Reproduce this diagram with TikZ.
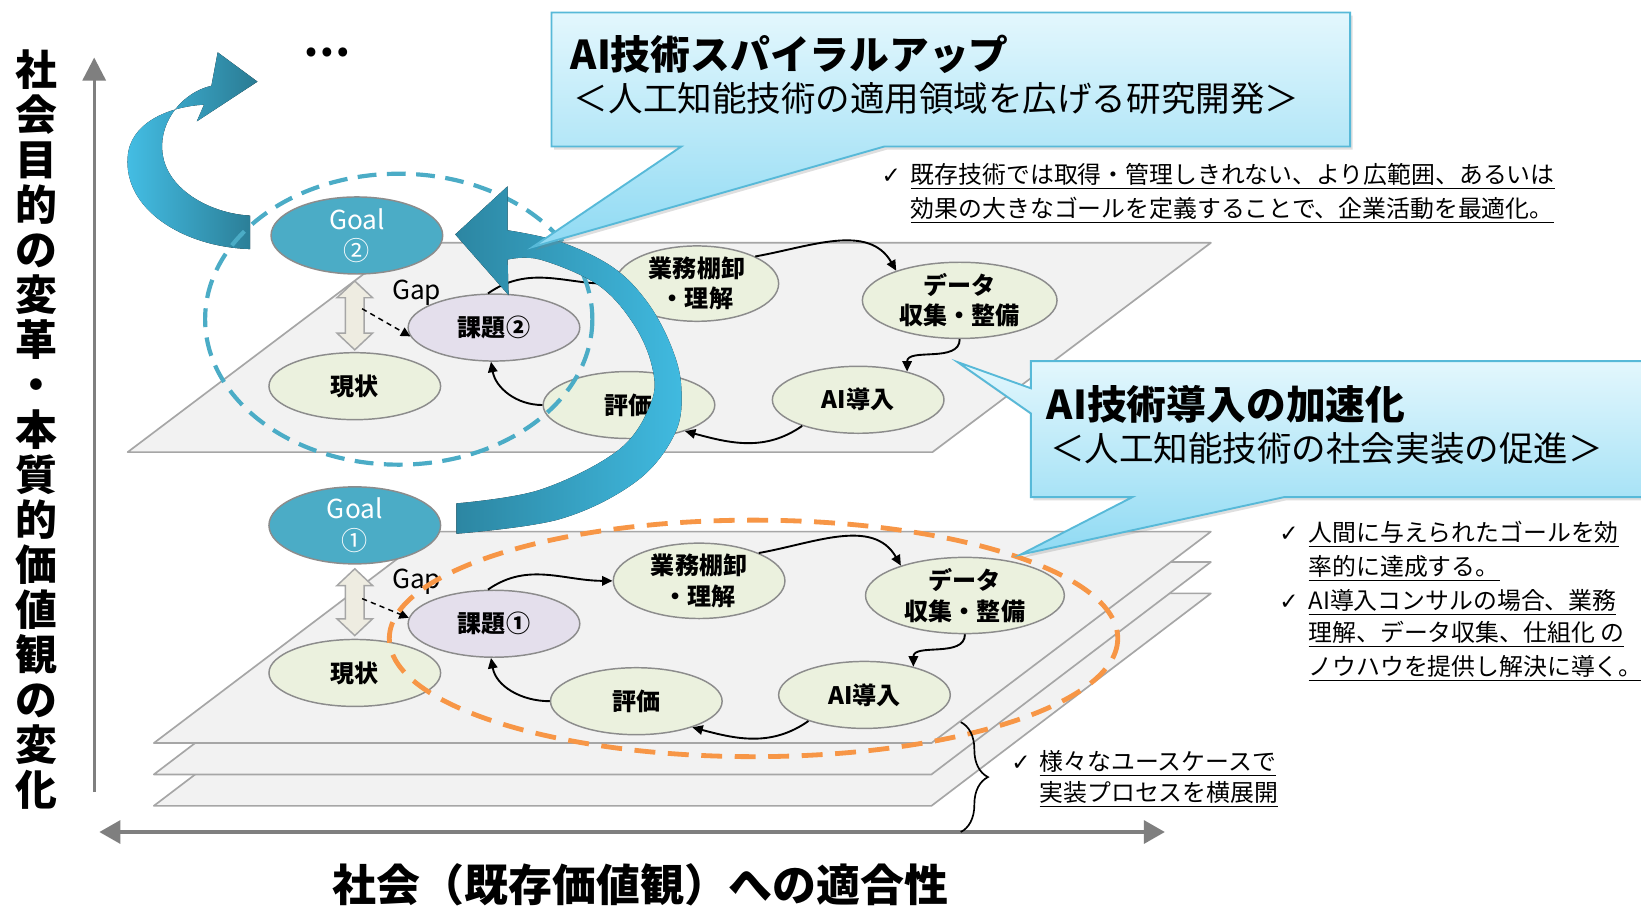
\documentclass[tikz,border=0pt]{standalone}
\usepackage{fontspec}
\setmainfont{Noto Sans CJK JP}
\newfontfamily\dejavu{DejaVu Sans}
\usetikzlibrary{shapes.geometric,arrows.meta,calc,decorations.pathreplacing,shadows}
\definecolor{planeF}{HTML}{F2F2F2}
\definecolor{planeD}{HTML}{A6A6A6}
\definecolor{nodeG}{HTML}{EBF1DE}
\definecolor{nodeP}{HTML}{E4DFEC}
\definecolor{nodeB}{HTML}{4BACC6}
\definecolor{nodeD}{HTML}{8C8C8C}
\definecolor{axisC}{HTML}{7F7F7F}
\definecolor{orangeC}{HTML}{F79646}
\definecolor{blueC}{HTML}{4BACC6}
\definecolor{fatF}{HTML}{EEECE1}
\definecolor{calB}{HTML}{57B9D8}
\definecolor{calT}{HTML}{E3F7FD}
\definecolor{calBot}{HTML}{8FDAF3}
\definecolor{tlL}{HTML}{44BFE6}
\definecolor{tlR}{HTML}{2A7B93}
\definecolor{mL}{HTML}{2C86A2}
\definecolor{mR}{HTML}{40BAE0}
\begin{document}
\begin{tikzpicture}[x=0.5pt,y=-0.5pt,
 plane/.style={fill=planeF, draw=planeD, line width=0.8pt, line join=round},
 ell/.style={ellipse, draw=nodeD, line width=0.7pt, inner sep=0pt, minimum width=82pt, minimum height=32pt, align=center, font=\bfseries\fontsize{11.5}{14.5}\selectfont},
 gnode/.style={ell, fill=nodeG},
 pnode/.style={ell, fill=nodeP},
 goalnode/.style={ell, fill=nodeB, text=white, font=\fontsize{12.5}{15}\selectfont},
 conn/.style={line width=0.9pt, -{Triangle[length=5pt,width=4.5pt]}},
 gaparrow/.style={line width=0.7pt, dash pattern=on 2.5pt off 2pt, -{Triangle[length=4.5pt,width=4.5pt]}},
 fatarrow/.style={fill=fatF, draw=planeD, line width=0.7pt, line join=miter},
 axisline/.style={draw=axisC, line width=1.5pt},
 callout/.style={draw=calB, line width=0.9pt, line join=miter, top color=calT, bottom color=calBot, drop shadow={shadow xshift=1.2pt, shadow yshift=-1.5pt, opacity=0.25}},
 chk/.style={anchor=base west, inner sep=0pt, font=\fontsize{11}{13}\dejavu},
 txt/.style={anchor=base west, inner sep=0pt, font=\fontsize{11.4}{13}\selectfont},
 gaplabel/.style={font=\fontsize{12.5}{12.5}\selectfont, inner sep=0pt},
]
\useasboundingbox (0,0) rectangle (1568,866);
\clip (0,0) rectangle (1568,866);
\fill[white] (0,0) rectangle (1568,866);

% axes
\coordinate (vA) at (90,757);
\coordinate (vB) at (90,55);
\coordinate (hA) at (95,795);
\coordinate (hB) at (1113,795);
\draw[axisline, -{Triangle[length=11pt,width=11pt]}] (vA) -- (vB);
\draw[axisline, {Triangle[length=10pt,width=11pt]}-{Triangle[length=10pt,width=11pt]}] (hA) -- (hB);

% planes
\draw[plane] (147,770) -- (890,770) -- (1157,567) -- (414,567) -- cycle;
\draw[plane] (147,740) -- (890,740) -- (1157,537) -- (414,537) -- cycle;
\draw[plane] (147,710) -- (890,710) -- (1157,508) -- (414,508) -- cycle;
\draw[plane] (122,432) -- (891,432) -- (1157,232) -- (387,232) -- cycle;

% upper level nodes
\node[goalnode] (g2) at (341,225) {Goal\\②};
\node[gnode] (gen2) at (339,369) {現状};
\node[pnode] (kad2) at (472,313) {課題②};
\node[gnode, minimum width=78pt] (gyo2) at (666,271) {業務棚卸\\・理解};
\node[gnode, minimum width=93pt, minimum height=33pt] (dat2) at (917,287) {データ\\収集・整備};
\node[gnode] (ai2) at (820,382) {AI導入};
\node[gnode] (hyo2) at (601,387) {評価};

% lower level nodes
\node[goalnode] (g1) at (339,502) {Goal\\①};
\node[gnode] (gen1) at (339,643) {現状};
\node[pnode] (kad1) at (472,596) {課題①};
\node[gnode] (gyo1) at (668,555) {業務棚卸\\・理解};
\node[gnode, minimum width=95pt, minimum height=33pt] (dat1) at (922,569) {データ\\収集・整備};
\node[gnode] (ai1) at (826,664) {AI導入};
\node[gnode] (hyo1) at (608,670) {評価};

% cycle connectors upper
\draw[conn] (kad2.100) to[out=35,in=180] (gyo2.west);
\draw[conn] (gyo2.25) to[out=10,in=120] (dat2.155);
\draw[conn] (dat2.south) to[out=-90,in=90] (ai2.30);
\draw[conn] (ai2.205) to[out=215,in=-15] (hyo2.-25);
\draw[conn] (hyo2.west) to[out=180,in=-80] (kad2.265);
% cycle connectors lower
\draw[conn] (kad1.100) to[out=35,in=180] (gyo1.west);
\draw[conn] (gyo1.25) to[out=10,in=120] (dat1.155);
\draw[conn] (dat1.south) to[out=-90,in=90] (ai1.30);
\draw[conn] (ai1.205) to[out=215,in=-15] (hyo1.-25);
\draw[conn] (hyo1.west) to[out=180,in=-80] (kad1.265);

% gap double arrows
\draw[fatarrow] let \p1=($(g2.south)+(0,6)$), \p2=($(gen2.north)+(0,-2)$) in
 (\x2,\y1) -- (\x2+8.5pt,\y1-8pt) -- (\x2+4.5pt,\y1-8pt) -- (\x2+4.5pt,\y2+8pt) -- (\x2+8.5pt,\y2+8pt) -- (\x2,\y2) -- (\x2-8.5pt,\y2+8pt) -- (\x2-4.5pt,\y2+8pt) -- (\x2-4.5pt,\y1-8pt) -- (\x2-8.5pt,\y1-8pt) -- cycle;
\draw[fatarrow] let \p1=($(g1.south)+(0,4)$), \p2=($(gen1.north)+(0,-3)$) in
 (\x2,\y1) -- (\x2+8.5pt,\y1-8pt) -- (\x2+4.5pt,\y1-8pt) -- (\x2+4.5pt,\y2+8pt) -- (\x2+8.5pt,\y2+8pt) -- (\x2,\y2) -- (\x2-8.5pt,\y2+8pt) -- (\x2-4.5pt,\y2+8pt) -- (\x2-4.5pt,\y1-8pt) -- (\x2-8.5pt,\y1-8pt) -- cycle;

% gap labels and dashed arrows
\node[gaplabel] (gap2) at (398,280) {Gap};
\node[gaplabel] (gap1) at (398,556) {Gap};
\coordinate (gs2) at (346,295);
\coordinate (gs1) at (346,572);
\draw[gaparrow] (gs2) -- (kad2.186);
\draw[gaparrow] (gs1) -- (kad1.176);

% orange dashed ellipse
\draw[orangeC, line width=2.3pt, dash pattern=on 10pt off 6pt] (720,610) ellipse [x radius=348, y radius=113];

% top-left ribbon arrow
\fill[left color=tlL, right color=tlR] (239,238) .. controls (175,236) and (118,200) .. (122,150)
  .. controls (124,118) and (160,102) .. (195,100) -- (188,116) -- (246,78) -- (208,50) -- (202,82)
  .. controls (175,88) and (153,115) .. (155,143) .. controls (157,180) and (200,204) .. (239,206) -- cycle;

% blue dashed circle
\draw[blueC, line width=2pt, dash pattern=on 9pt off 5pt] (381,305) ellipse [x radius=185, y radius=139];

% middle ribbon arrow
\fill[left color=mL, right color=mR] (436,510) -- plot[smooth, tension=0.6] coordinates {(436,510) (535,496) (608,460) (645,414) (651,370) (641,330) (618,288) (585,255) (535,231) (485,220)}
  -- (485,178) -- (435,224) -- (486,282) -- (485,248)
  -- plot[smooth, tension=0.6] coordinates {(485,248) (516,248) (571,272) (605,309) (623,350) (622,385) (591,430) (516,468) (436,481)} -- cycle;

% callouts
\path[callout] (527,12) -- (1290,12) -- (1290,140) -- (845,140) -- (509,236) -- (651,140) -- (527,140) -- cycle;
\path[callout] (985,345) -- (1600,345) -- (1600,475) -- (1227,475) -- (975,530) -- (1082,475) -- (985,475) -- (985,395) -- (915,346) -- (985,371) -- cycle;

\node[anchor=base west, inner sep=0pt, font=\bfseries\fontsize{19}{19}\selectfont] (t1) at (545,66) {AI技術スパイラルアップ};
\node[anchor=base west, inner sep=0pt, font=\fontsize{16.5}{16.5}\selectfont] (s1) at (548,107) {＜人工知能技術の適用領域を広げる研究開発＞};
\node[anchor=base west, inner sep=0pt, font=\bfseries\fontsize{19}{19}\selectfont] (t2) at (1000,401) {AI技術導入の加速化};
\node[anchor=base west, inner sep=0pt, font=\fontsize{16.5}{16.5}\selectfont] (s2) at (1003,441) {＜人工知能技術の社会実装の促進＞};

% check texts
\node[chk] (cA) at (842,175) {✓};
\node[txt] (tA1) at (870,175) {\underline{既存技術では取得・管理しきれない、より広範囲、あるいは}};
\node[txt] (tA2) at (870,208) {\underline{効果の大きなゴールを定義することで、企業活動を最適化。}};

\node[chk] (cB1) at (1222,517) {✓};
\node[txt] (tB1) at (1250,517) {\underline{人間に与えられたゴールを効}};
\node[txt] (tB2) at (1250,550) {\underline{率的に達成する。}};
\node[chk] (cB2) at (1222,582) {✓};
\node[txt] (tB3) at (1250,582) {\underline{AI導入コンサルの場合、業務}};
\node[txt] (tB4) at (1250,613) {\underline{理解、データ収集、仕組化 の}};
\node[txt] (tB5) at (1250,645) {\underline{ノウハウを提供し解決に導く。}};

\node[chk] (cC) at (966,736) {✓};
\node[txt] (tC1) at (993,736) {\underline{様々なユースケースで}};
\node[txt] (tC2) at (993,766) {\underline{実装プロセスを横展開}};

% brace
\draw[decorate, decoration={brace, amplitude=13pt}, line width=0.8pt] (918,690) -- (918,795);

% axis labels
\node[font=\bfseries\fontsize{20}{21.5}\selectfont, align=center, inner sep=0pt] (vlabel) at (35,410) {社\\会\\目\\的\\の\\変\\革\\・\\本\\質\\的\\価\\値\\観\\の\\変\\化};
\node[font=\bfseries\fontsize{21}{21}\selectfont, inner sep=0pt] (hlabel) at (612,845) {社会（既存価値観）への適合性};
\node[font=\bfseries\fontsize{20}{20}\selectfont, inner sep=0pt] (dots) at (312,50) {…};
\end{tikzpicture}
\end{document}
